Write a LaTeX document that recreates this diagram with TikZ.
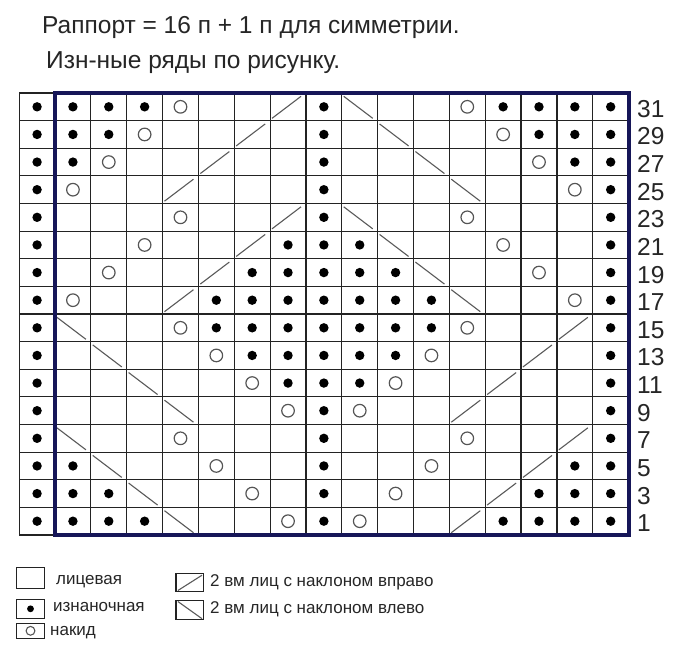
\documentclass[tikz,border=0pt]{standalone}
\usepackage{fontspec}
\setmainfont{Liberation Sans}
\definecolor{navy}{RGB}{22,22,88}
\definecolor{gridc}{RGB}{35,35,35}
\definecolor{yoc}{RGB}{85,85,85}
\definecolor{slc}{RGB}{90,90,90}
\newcommand\kne[2]{}
\newcommand\knp[2]{\fill[black] (#1,#2) circle[radius=4.7];}
\newcommand\kno[2]{\draw[yoc,line width=1.2] (#1,#2) circle[radius=6.3];}
\newcommand\knr[2]{\draw[slc,line width=1.1,shift={(#1,#2)}] (-16,11.5) -- (13,-10.5);}
\newcommand\knl[2]{\draw[slc,line width=1.1,shift={(#1,#2)}] (-16,-10.5) -- (13,11.5);}
\tikzset{
  gridline/.style={gridc,line width=1.2},
  legbox/.style={draw=gridc,line width=1.1},
  legtxt/.style={anchor=base west,inner sep=0pt,font=\fontsize{17}{20}\selectfont,text=black!85},
  titletxt/.style={anchor=base west,inner sep=0pt,font=\fontsize{24.5}{28}\selectfont,text=black!85},
  rowlab/.style={anchor=base west,inner sep=0pt,font=\fontsize{24.5}{28}\selectfont,text=black!85}
}
\begin{document}
\begin{tikzpicture}[x=1pt,y=-1pt]
\useasboundingbox[fill=white] (0,0) rectangle (690,654);
% title
\node[titletxt] (t1) at (42,33.3) {Раппорт = 16 п + 1 п для симметрии.};
\node[titletxt] (t2) at (46,68.3) {Изн-ные ряды по рисунку.};
% grid lines
\foreach \k in {0,...,17} {\draw[gridline] (19.15+35.85*\k,93) -- (19.15+35.85*\k,535);}
\foreach \k in {0,...,16} {\draw[gridline] (19.15,93+27.625*\k) -- (629,93+27.625*\k);}
% symbols
\foreach \pat [count=\r from 0] in {
 {p,p,p,p,o,e,e,r,p,l,e,e,o,p,p,p,p},
 {p,p,p,o,e,e,r,e,p,e,l,e,e,o,p,p,p},
 {p,p,o,e,e,r,e,e,p,e,e,l,e,e,o,p,p},
 {p,o,e,e,r,e,e,e,p,e,e,e,l,e,e,o,p},
 {p,e,e,e,o,e,e,r,p,l,e,e,o,e,e,e,p},
 {p,e,e,o,e,e,r,p,p,p,l,e,e,o,e,e,p},
 {p,e,o,e,e,r,p,p,p,p,p,l,e,e,o,e,p},
 {p,o,e,e,r,p,p,p,p,p,p,p,l,e,e,o,p},
 {p,l,e,e,o,p,p,p,p,p,p,p,o,e,e,r,p},
 {p,e,l,e,e,o,p,p,p,p,p,o,e,e,r,e,p},
 {p,e,e,l,e,e,o,p,p,p,o,e,e,r,e,e,p},
 {p,e,e,e,l,e,e,o,p,o,e,e,r,e,e,e,p},
 {p,l,e,e,o,e,e,e,p,e,e,e,o,e,e,r,p},
 {p,p,l,e,e,o,e,e,p,e,e,o,e,e,r,p,p},
 {p,p,p,l,e,e,o,e,p,e,o,e,e,r,p,p,p},
 {p,p,p,p,l,e,e,o,p,o,e,e,r,p,p,p,p}} {
  \foreach \c [count=\i from 0] in \pat {
    \csname kn\c\endcsname{37.075+35.85*\i}{106.8125+27.625*\r}
  }
}
% thick border
\draw[navy,line width=4] (55,93) rectangle (629,535);
% row labels
\foreach \n [count=\r from 0] in {31,29,27,25,23,21,19,17,15,13,11,9,7,5,3,1} {
  \node[rowlab] (lab\n) at (637,117.3+27.625*\r) {\n};
}
% legend
\node[legbox,minimum width=27.5,minimum height=20.5,inner sep=0pt] (b1) at (30.5,578) {};
\node[legbox,minimum width=27.5,minimum height=19,inner sep=0pt] (b2) at (30.5,608.8) {};
\fill[black] (b2.center) circle[radius=3.4];
\node[legbox,minimum width=27.5,minimum height=15,inner sep=0pt] (b3) at (30.5,630.8) {};
\draw[yoc,line width=1.1] (b3.center) circle[radius=4.4];
\node[legbox,minimum width=27.5,minimum height=18.5,inner sep=0pt] (b4) at (189.7,582.5) {};
\draw[slc,line width=1.1] ([shift={(2.5,-1.8)}]b4.south west) -- ([shift={(-2,2.5)}]b4.north east);
\node[legbox,minimum width=27.5,minimum height=19.3,inner sep=0pt] (b5) at (189.7,609.7) {};
\draw[slc,line width=1.1] ([shift={(2.5,2)}]b5.north west) -- ([shift={(-2,-1.2)}]b5.south east);
\node[legtxt] (l1) at (56,584.4) {лицевая};
\node[legtxt] (l2) at (53,611.7) {изнаночная};
\node[legtxt] (l3) at (50,635.3) {накид};
\node[legtxt] (l4) at (210,586.7) {2 вм лиц с наклоном вправо};
\node[legtxt] (l5) at (210,613.3) {2 вм лиц с наклоном влево};
\end{tikzpicture}
\end{document}
